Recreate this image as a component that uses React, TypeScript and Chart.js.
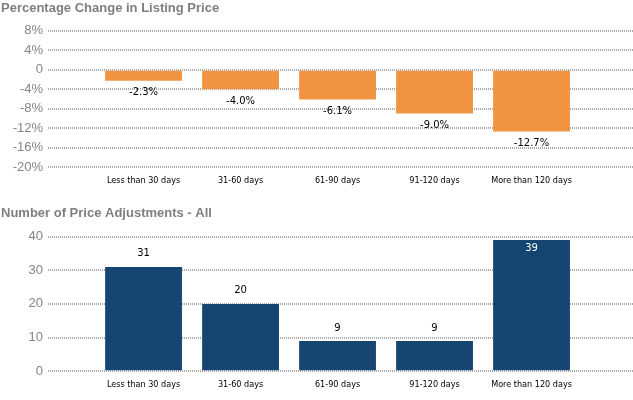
import React, { useEffect, useRef } from "react";
import { Chart, registerables } from "chart.js";

Chart.register(...registerables);

const categories = ["Less than 30 days", "31-60 days", "61-90 days", "91-120 days", "More than 120 days"];
const pctChange = [-2.3, -4.0, -6.1, -9.0, -12.7];
const adjustments = [31, 20, 9, 9, 39];
const pctTicks = [8, 4, 0, -4, -8, -12, -16, -20];
const countTicks = [40, 30, 20, 10, 0];

const topTitle = "Percentage Change in Listing Price";
const bottomTitle = "Number of Price Adjustments - All";

const ORANGE = "#F09442";
const NAVY = "#164571";
const GRID = "#a9a9a9";
const TITLE_GRAY = "#7f7f7f";
const TICK_GRAY = "#858585";

const valueLabels = {
  id: "valueLabels",
  afterDatasetsDraw(chart: any, _args: any, opts: any) {
    const ctx = chart.ctx;
    const meta = chart.getDatasetMeta(0);
    const data = chart.data.datasets[0].data as any[];
    ctx.save();
    ctx.font = "10px 'DejaVu Sans'";
    ctx.textAlign = "center";
    ctx.textBaseline = "middle";
    meta.data.forEach((el: any, i: number) => {
      const v = data[i].y;
      let y: number;
      let color = "#000";
      if (v < 0) {
        y = el.y + 12;
      } else {
        y = el.y - 13;
        if (y - 6 < chart.chartArea.top) {
          y = el.y + 8;
          color = "#fff";
        }
      }
      ctx.fillStyle = color;
      ctx.fillText(opts.format(v), el.x, y);
    });
    ctx.restore();
  },
};

function makeOptions(
  title: string,
  titlePad: { top: number; bottom: number },
  yMin: number,
  yMax: number,
  tickList: number[],
  yFmt: (v: number) => string,
  labelFmt: (v: number) => string
): any {
  return {
    responsive: false,
    animation: false,
    devicePixelRatio: 1,
    layout: { padding: { left: 1, right: 0, top: 0, bottom: 2 } },
    plugins: {
      legend: { display: false },
      tooltip: { enabled: false },
      title: {
        display: true,
        text: title,
        align: "start",
        color: TITLE_GRAY,
        font: { family: "'Liberation Sans', Arial", size: 13, weight: "bold" },
        padding: titlePad,
      },
      valueLabels: { format: labelFmt },
    },
    scales: {
      x: {
        type: "linear",
        offset: false,
        min: -0.985,
        max: 5.046,
        grid: { display: false, drawTicks: false },
        border: { display: false },
        afterBuildTicks: (scale: any) => {
          scale.ticks = categories.map((_, i) => ({ value: i }));
        },
        ticks: {
          autoSkip: false,
          maxRotation: 0,
          minRotation: 0,
          padding: 8,
          color: "#000",
          font: { family: "'DejaVu Sans Condensed', 'DejaVu Sans'", size: 9 },
          callback: (v: any) => categories[v] ?? "",
        },
      },
      y: {
        min: yMin,
        max: yMax,
        afterFit: (scale: any) => {
          scale.width = 47;
        },
        afterBuildTicks: (scale: any) => {
          scale.ticks = tickList.map((v) => ({ value: v }));
        },
        grid: { color: GRID, lineWidth: 2, drawTicks: false },
        border: { display: false, dash: [1, 1] },
        ticks: {
          padding: 5,
          color: TICK_GRAY,
          font: { family: "'Liberation Sans', Arial", size: 13 },
          callback: (v: any) => yFmt(v),
        },
      },
    },
  };
}

function BarPanel(props: {
  height: number;
  values: number[];
  color: string;
  options: any;
}) {
  const ref = useRef<HTMLCanvasElement | null>(null);
  useEffect(() => {
    if (!ref.current) return;
    const chart = new Chart(ref.current, {
      type: "bar",
      data: {
        datasets: [
          {
            data: props.values.map((v, i) => ({ x: i, y: v })),
            backgroundColor: props.color,
            borderWidth: 0,
            barPercentage: 0.99,
            categoryPercentage: 0.8,
          },
        ],
      } as any,
      options: props.options,
      plugins: [valueLabels],
    });
    return () => chart.destroy();
  }, []);
  return (
    <canvas
      ref={ref}
      width={633}
      height={props.height}
      style={{ display: "block", width: 633, height: props.height }}
    />
  );
}

export default function App() {
  const topOpts = makeOptions(
    topTitle,
    { top: 1, bottom: 14 },
    -20,
    8,
    pctTicks,
    (v) => (v === 0 ? "0" : `${v}%`),
    (v) => `${v.toFixed(1)}%`
  );
  const bottomOpts = makeOptions(
    bottomTitle,
    { top: 10, bottom: 15 },
    0,
    40,
    countTicks,
    (v) => `${v}`,
    (v) => `${v}`
  );
  return (
    <div
      style={{
        position: "absolute",
        left: 0,
        top: 0,
        width: 633,
        height: 400,
        background: "#fff",
      }}
    >
      <BarPanel height={196} values={pctChange} color={ORANGE} options={topOpts} />
      <BarPanel height={204} values={adjustments} color={NAVY} options={bottomOpts} />
    </div>
  );
}
